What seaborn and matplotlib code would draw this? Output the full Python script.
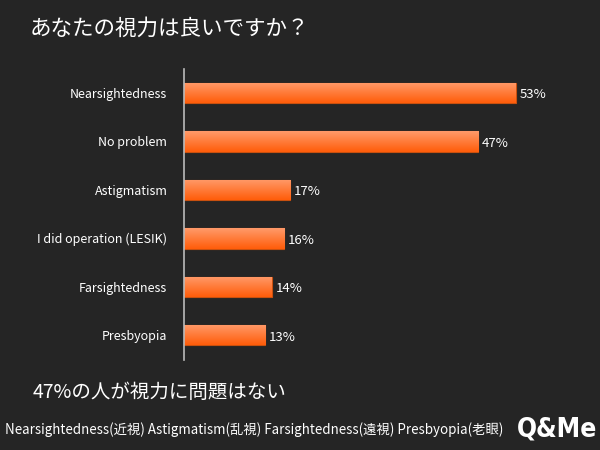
import matplotlib
matplotlib.use("Agg")
import matplotlib.pyplot as plt
import numpy as np
import pandas as pd
import seaborn as sns
from matplotlib.colors import LinearSegmentedColormap

TITLE = "あなたの視力は良いですか？"
SUBTITLE = "47%の人が視力に問題はない"
FOOTNOTE = "Nearsightedness(近視) Astigmatism(乱視) Farsightedness(遠視) Presbyopia(老眼)"

categories = [
    "Nearsightedness",
    "No problem",
    "Astigmatism",
    "I did operation (LESIK)",
    "Farsightedness",
    "Presbyopia",
]
percentages = [53, 47, 17, 16, 14, 13]

BG = "#252525"

sns.set_theme(style="white")
plt.rcParams["font.family"] = ["Noto Sans CJK JP", "DejaVu Sans"]

df = pd.DataFrame({"category": categories, "pct": percentages})

fig = plt.figure(figsize=(6, 4.5), dpi=100, facecolor=BG)
ax = fig.add_axes([0.3067, 0.2011, 0.63, 0.6461])
ax.set_facecolor(BG)

sns.barplot(data=df, x="pct", y="category", orient="h", color="#ff6a1a",
            width=0.42, edgecolor="#c9500f", linewidth=0.8, ax=ax)

# vertical gradient inside each bar: light on top, deep orange below
grad_cmap = LinearSegmentedColormap.from_list("bar", ["#ff9a6a", "#ff5d0a"])
grad = np.linspace(0, 1, 64).reshape(-1, 1)
for patch in ax.patches:
    x0, y0 = patch.get_x(), patch.get_y()
    w, h = patch.get_width(), patch.get_height()
    im = ax.imshow(grad, cmap=grad_cmap, aspect="auto",
                   extent=[x0, x0 + w, y0 + h, y0], zorder=patch.get_zorder() + 0.1,
                   interpolation="bilinear")
    im.set_clip_path(patch)

for i, v in enumerate(percentages):
    ax.text(v + 0.6, i + 0.04, f"{v}%", va="center", ha="left", color="white", fontsize=9.5)

ax.set_xlim(0, 60.4)
ax.set_ylim(5.5, -0.5)
ax.set_xlabel("")
ax.set_ylabel("")
ax.set_xticks([])
ax.tick_params(axis="y", colors="white", labelsize=9, length=0, pad=12)
for side in ["top", "right", "bottom"]:
    ax.spines[side].set_visible(False)
ax.spines["left"].set_color("#bbbbbb")
ax.spines["left"].set_linewidth(1.2)

fig.text(0.05, 0.935, TITLE, color="white", fontsize=15.5, va="center", ha="left")
fig.text(0.055, 0.128, SUBTITLE, color="white", fontsize=14, va="center", ha="left")
fig.text(0.008, 0.045, FOOTNOTE, color="white", fontsize=9.6, va="center", ha="left")
fig.text(0.995, 0.045, "Q&Me", color="white", fontsize=19, fontweight="heavy",
         va="center", ha="right", family=["DejaVu Sans"], fontstretch="condensed")

fig.savefig("out.png", dpi=100, facecolor=BG)
